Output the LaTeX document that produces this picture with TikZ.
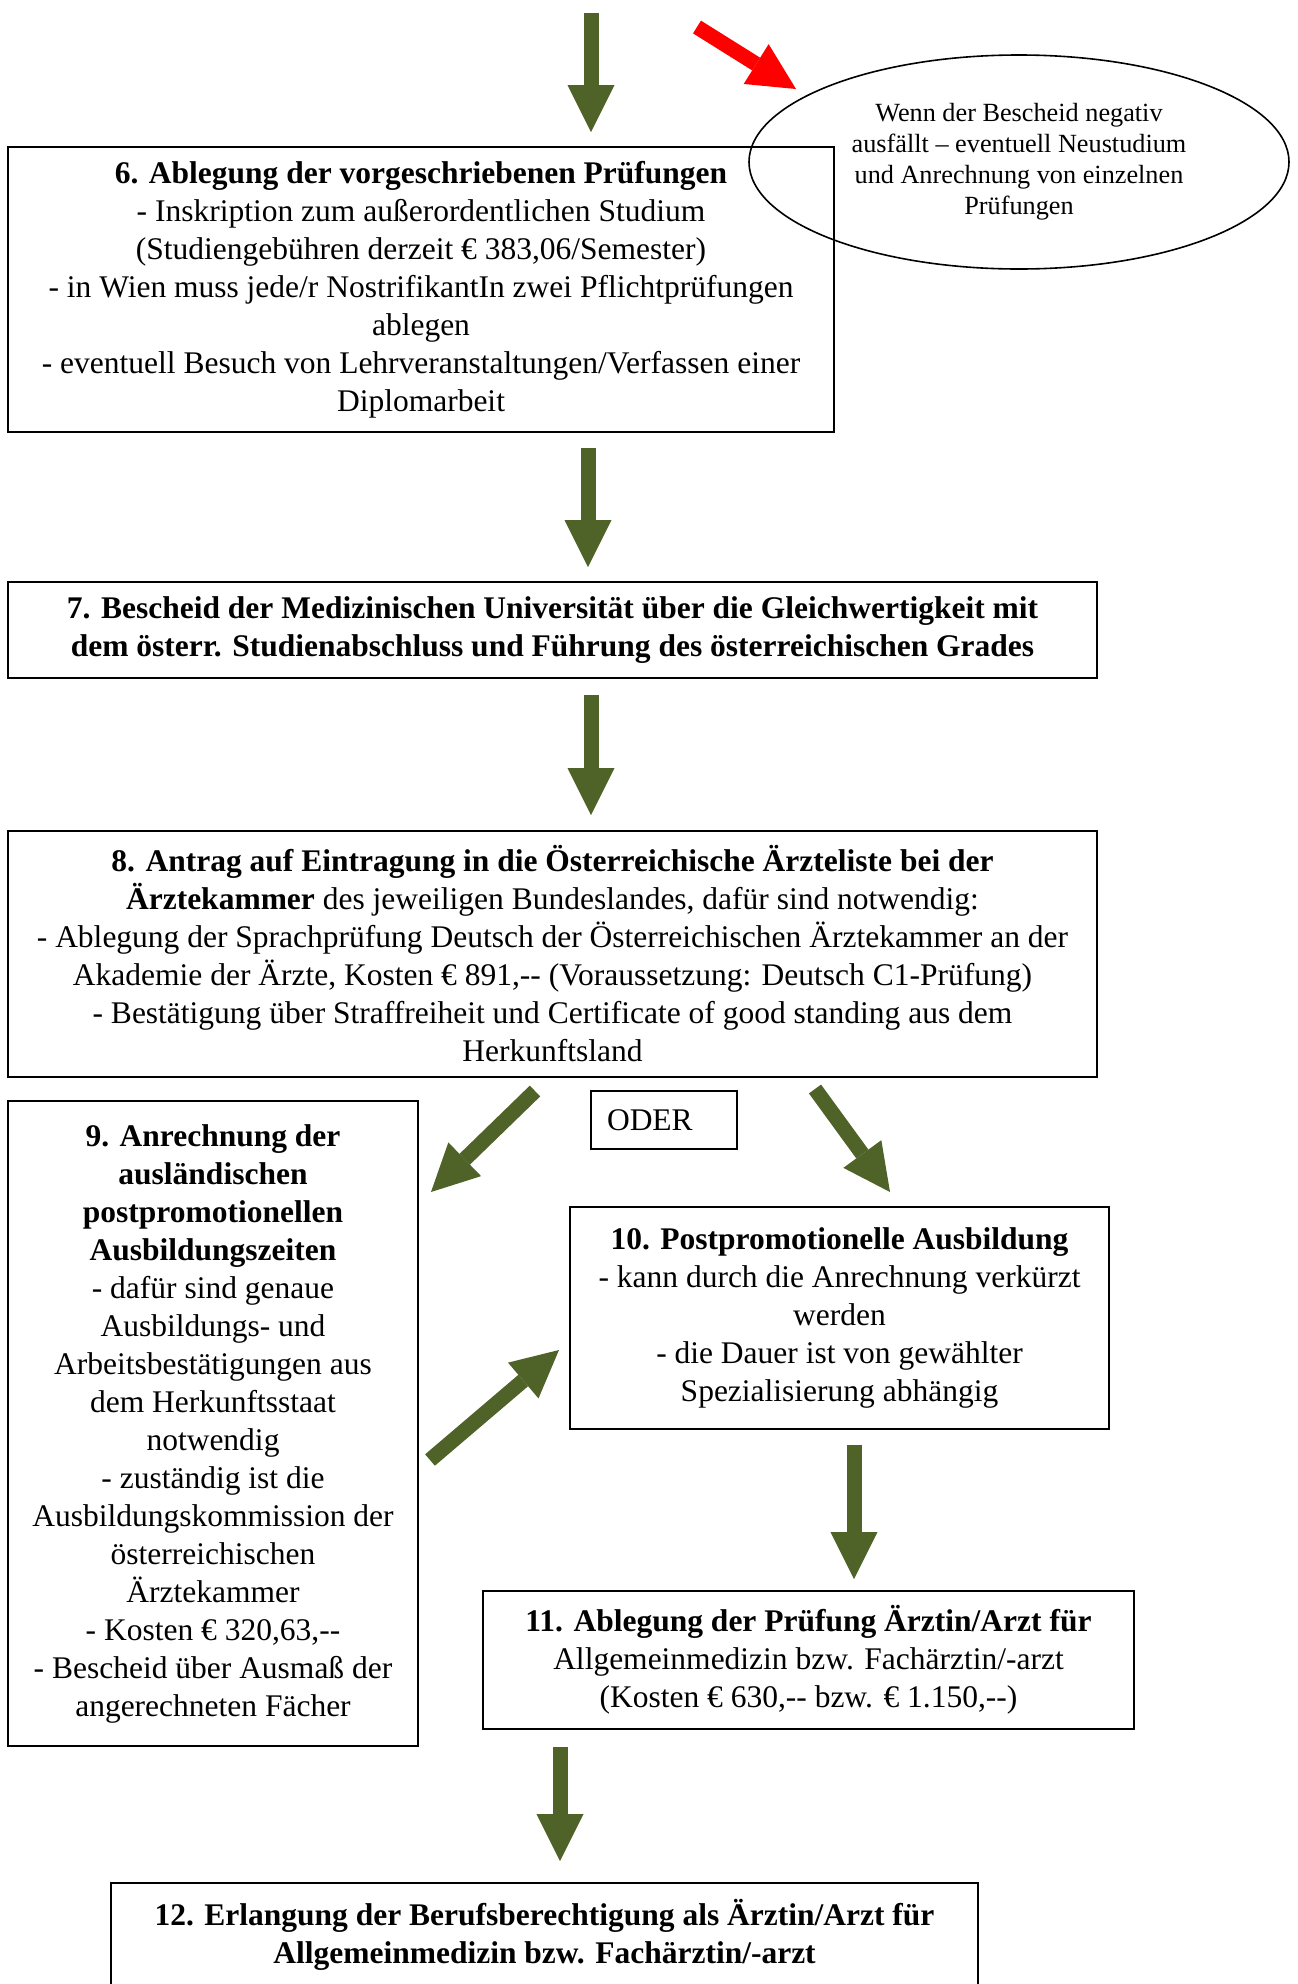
\documentclass[tikz,border=0pt]{standalone}
\usepackage{fontspec}
\setmainfont{Liberation Serif}
\usetikzlibrary{arrows.meta,shapes.geometric}
\definecolor{olivearr}{RGB}{79,98,40}

\tikzset{every picture/.style={line width=0.75pt}}
\tikzset{
  box/.style={draw, line width=1.6pt, align=center, inner sep=0pt, font=\fontsize{31.5}{38}\selectfont},
  grn/.style={draw=olivearr, line width=15pt, -{Triangle[width=47pt,length=47pt,line width=0pt]}},
  redarr/.style={grn, draw=red},
}

\begin{document}
\begin{tikzpicture}[x=1pt,y=1pt,yscale=-1,xscale=1]
\clip (0,0) rectangle (1298,1984);
\fill[white] (0,0) rectangle (1298,1984);

% Boxes
\node[box, minimum width=826pt, minimum height=285pt] (b6) at (421,289.5) {\textbf{6. Ablegung der vorgeschriebenen Prüfungen}\\- Inskription zum außerordentlichen Studium\\(Studiengebühren derzeit € 383,06/Semester)\\- in Wien muss jede/r NostrifikantIn zwei Pflichtprüfungen\\ablegen\\- eventuell Besuch von Lehrveranstaltungen/Verfassen einer\\Diplomarbeit};
\node[box, minimum width=1089pt, minimum height=96pt, font=\fontsize{31.5}{38}\selectfont\bfseries] (b7) at (552.5,630) {7. Bescheid der Medizinischen Universität über die Gleichwertigkeit mit\\dem österr. Studienabschluss und Führung des österreichischen Grades};
\node[box, minimum width=1089pt, minimum height=246pt] (b8) at (552.5,954) {\textbf{8. Antrag auf Eintragung in die Österreichische Ärzteliste bei der}\\\textbf{Ärztekammer} des jeweiligen Bundeslandes, dafür sind notwendig:\\- Ablegung der Sprachprüfung Deutsch der Österreichischen Ärztekammer an der\\Akademie der Ärzte, Kosten € 891,-{}- (Voraussetzung: Deutsch C1-Prüfung)\\- Bestätigung über Straffreiheit und Certificate of good standing aus dem\\Herkunftsland};
\node[box, minimum width=410pt, minimum height=645pt] (b9) at (213,1423.5) {\textbf{9. Anrechnung der}\\\textbf{ausländischen}\\\textbf{postpromotionellen}\\\textbf{Ausbildungszeiten}\\- dafür sind genaue\\Ausbildungs- und\\Arbeitsbestätigungen aus\\dem Herkunftsstaat\\notwendig\\- zuständig ist die\\Ausbildungskommission der\\österreichischen\\Ärztekammer\\- Kosten € 320,63,-{}-\\- Bescheid über Ausmaß der\\angerechneten Fächer};
\node[box, align=left, text width=114pt, inner xsep=16pt, minimum height=58pt] (oder) at (664,1120) {ODER};
\node[box, minimum width=539pt, minimum height=222pt] (b10) at (839.5,1318) {\textbf{10. Postpromotionelle Ausbildung}\\- kann durch die Anrechnung verkürzt\\werden\\- die Dauer ist von gewählter\\Spezialisierung abhängig};
\node[box, minimum width=651pt, minimum height=138pt] (b11) at (808.5,1660) {\textbf{11. Ablegung der Prüfung Ärztin/Arzt für}\\Allgemeinmedizin bzw. Fachärztin/-arzt\\(Kosten € 630,-{}- bzw. € 1.150,-{}-)};
\node[box, minimum width=867pt, minimum height=104pt, font=\fontsize{31.5}{38}\selectfont\bfseries] (b12) at (544.5,1935) {12. Erlangung der Berufsberechtigung als Ärztin/Arzt für\\Allgemeinmedizin bzw. Fachärztin/-arzt};

% Ellipse
\node[draw, ellipse, line width=1.6pt, minimum width=540pt, minimum height=214pt, align=center, inner sep=0pt, font=\fontsize{26.25}{31}\selectfont] (neg) at (1019,162) {Wenn der Bescheid negativ\\ausfällt – eventuell Neustudium\\und Anrechnung von einzelnen\\Prüfungen};

% Arrow columns and free ends
\coordinate (a0) at (591,13);
\coordinate (c67) at (588,0);
\coordinate (c78) at (591,0);
\coordinate (c1011) at (854,0);
\coordinate (c1112) at (560,0);
\coordinate (r0) at (697,27);
\coordinate (r1) at (796,89);
\coordinate (s89) at (535,1091);
\coordinate (e89) at (431,1192);
\coordinate (s810) at (815,1089);
\coordinate (e810) at (890,1192);
\coordinate (s910) at (430,1460);
\coordinate (e910) at (559,1350);

% Arrows
\draw[grn, shorten >=14pt] (a0) -- (a0 |- b6.north);
\draw[redarr] (r0) -- (r1);
\draw[grn, shorten <=15pt, shorten >=14pt] (b6.south -| c67) -- (b7.north -| c67);
\draw[grn, shorten <=16pt, shorten >=15pt] (b7.south -| c78) -- (b8.north -| c78);
\draw[grn] (s89) -- (e89);
\draw[grn] (s810) -- (e810);
\draw[grn] (s910) -- (e910);
\draw[grn, shorten <=15pt, shorten >=11pt] (b10.south -| c1011) -- (b11.north -| c1011);
\draw[grn, shorten <=17pt, shorten >=21pt] (b11.south -| c1112) -- (b12.north -| c1112);

\end{tikzpicture}
\end{document}
